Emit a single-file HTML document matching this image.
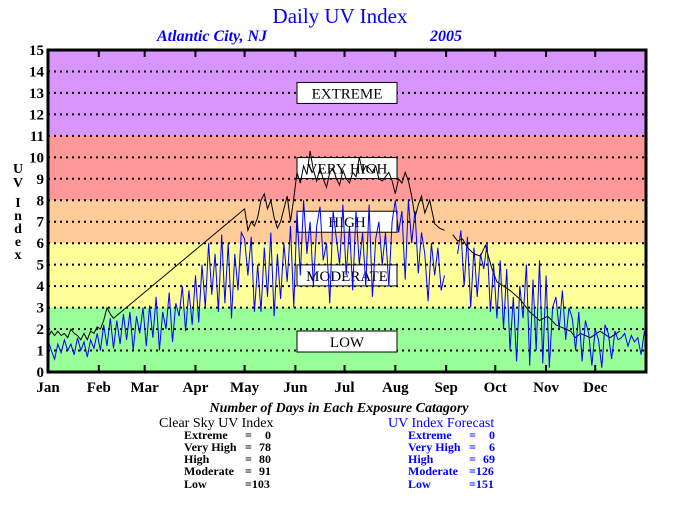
<!DOCTYPE html>
<html><head><meta charset="utf-8"><style>
body{margin:0;background:#fff;width:680px;height:500px;overflow:hidden;font-family:"Liberation Serif",serif}
svg text{font-family:"Liberation Serif",serif}
</style></head><body>
<svg id="chart" width="680" height="500" xmlns="http://www.w3.org/2000/svg">
<text x="340" y="23" text-anchor="middle" font-size="21" fill="#0000ff">Daily UV Index</text>
<text x="157" y="41" font-size="16" font-weight="bold" font-style="italic" fill="#0000ff">Atlantic City, NJ</text>
<text x="430" y="41" font-size="16" font-weight="bold" font-style="italic" fill="#0000ff">2005</text>
<g id="bands"></g><g id="grid"></g><g id="boxes"></g><g id="series"></g><g id="axes"></g>
<g font-size="14" font-weight="bold" text-anchor="middle">
<text x="18" y="173">U</text><text x="18" y="187">V</text><text x="18" y="207">I</text><text x="18" y="220">n</text><text x="18" y="233">d</text><text x="18" y="246">e</text><text x="18" y="259">x</text>
</g>
<text x="339" y="412" text-anchor="middle" font-size="14" font-weight="bold" font-style="italic">Number of Days in Each Exposure Catagory</text>
<g font-weight="bold">
<text x="159" y="427" font-size="14" font-weight="normal">Clear Sky UV Index</text>
<g font-size="12"><text x="184" y="439">Extreme</text><text x="245" y="439">=</text><text x="271" y="439" text-anchor="end">0</text>
<text x="184" y="451">Very High</text><text x="245" y="451">=</text><text x="271" y="451" text-anchor="end">78</text>
<text x="184" y="463">High</text><text x="245" y="463">=</text><text x="271" y="463" text-anchor="end">80</text>
<text x="184" y="475">Moderate</text><text x="245" y="475">=</text><text x="271" y="475" text-anchor="end">91</text>
<text x="184" y="488">Low</text><text x="245" y="488">=103</text></g></g>
<g font-weight="bold" fill="#0000ff">
<text x="388" y="427" font-size="14" font-weight="normal">UV Index Forecast</text>
<g font-size="12"><text x="408" y="439">Extreme</text><text x="469" y="439">=</text><text x="495" y="439" text-anchor="end">0</text>
<text x="408" y="451">Very High</text><text x="469" y="451">=</text><text x="495" y="451" text-anchor="end">6</text>
<text x="408" y="463">High</text><text x="469" y="463">=</text><text x="495" y="463" text-anchor="end">69</text>
<text x="408" y="475">Moderate</text><text x="469" y="475">=126</text>
<text x="408" y="488">Low</text><text x="469" y="488">=151</text></g></g>
</svg>
<script>
const months=["Jan","Feb","Mar","Apr","May","Jun","Jul","Aug","Sep","Oct","Nov","Dec"];
const monthStart=[0,31,59,90,120,151,181,212,243,273,304,334];
const yTicks=[0,1,2,3,4,5,6,7,8,9,10,11,12,13,14,15];
const bandFrom=[0,3,6,8,11];
const bandTo=[3,6,8,11,15];
const bandColors=["#99ff99","#ffff99","#ffcc99","#ff9999","#d896fc"];
const boxLabels=["LOW","MODERATE","HIGH","VERY HIGH","EXTREME"];
const boxLevels=[1.42,4.5,7,9.5,13];
const clearDays=[0,2,4,6,8,10,12,14,16,18,20,22,24,26,28,30,32,34,36,38,40,120,122,124,126,128,130,132,134,136,138,140,142,144,146,148,150,152,154,156,158,160,162,164,166,168,170,172,174,176,178,180,182,184,186,188,190,192,194,196,198,200,202,204,206,208,210,212,214,216,218,220,222,224,226,228,230,233,236,239,242,244,247,250,253,256,260,264,267,271,274,278,282,285,288,294,300,305,310,316,319,322,325,331,337,343,349,355,360,364];
const clearVals=[1.6,1.9,1.7,1.9,1.7,1.8,1.6,2.0,1.8,1.7,1.5,1.8,1.5,1.9,1.8,2.1,2.0,2.4,3.0,2.7,2.5,7.6,6.6,7.0,6.8,7.2,8.0,8.3,7.6,8.0,7.2,6.7,7.0,7.6,8.2,7.0,8.1,9.3,8.8,9.6,9.2,10.3,9.4,8.9,9.5,9.0,8.6,9.3,9.5,9.0,8.7,9.4,9.0,8.8,9.3,9.1,10.0,9.3,9.6,9.5,9.3,9.6,9.0,8.9,9.1,9.3,8.9,8.3,9.0,8.8,9.3,8.9,8.2,7.2,7.8,8.2,7.4,8.0,6.9,6.7,6.6,null,6.4,6.1,6.2,5.8,5.5,5.4,5.9,4.8,4.2,4.0,3.8,3.6,3.4,2.8,2.4,2.6,2.2,2.0,1.9,1.6,1.8,1.6,1.9,1.6,1.9];
const forecastVals=[1.5,1.0,0.6,1.3,0.9,1.5,1.0,1.3,0.8,1.6,1.0,1.4,0.7,1.5,1.1,1.8,
1.0,2.2,1.2,2.5,1.1,2.4,1.3,2.7,1.5,2.8,1.0,2.6,1.8,3.0,
1.2,3.1,1.6,3.5,1.0,2.8,2.0,3.7,1.4,3.2,2.6,4.0,1.9,3.8,2.2,
4.5,2.3,5.0,3.0,6.0,3.6,5.5,2.8,6.4,3.2,6.0,2.5,5.5,3.8,6.5,
6.2,4.5,6.3,2.8,5.0,2.8,5.8,3.5,6.5,2.6,5.5,3.4,6.0,4.2,6.8,3.0,
7.5,4.5,8.0,5.5,7.0,4.0,6.8,7.7,5.2,6.0,3.2,7.5,6.2,5.0,7.8,
4.5,6.8,3.8,7.5,5.0,6.5,4.0,7.8,3.5,6.2,7.0,5.0,6.5,4.0,7.0,
8.0,6.5,7.5,4.3,8.0,6.0,7.5,4.6,6.5,5.5,3.3,6.0,4.5,5.8,3.8,4.5,
null,null,null,5.5,6.6,4.0,6.3,3.0,5.8,3.5,5.5,4.8,6.0,2.8,5.0,
2.5,5.2,2.0,4.8,1.0,3.5,0.5,4.0,2.5,5.0,0.3,4.3,1.0,5.2,0.4,
4.5,0.2,3.0,3.5,2.0,3.8,1.5,3.0,2.5,1.0,2.8,0.5,2.4,1.8,0.3,
2.0,1.5,0.2,2.2,1.8,0.6,1.9,1.5,1.6,1.8,1.2,1.7,1.4,1.6,0.8,1.9];
const forecastDayStep=2;

const L=48,R=646,T=50,B=372;
const xS=d=>L+d*(R-L)/365;
const yS=v=>B-v*(B-T)/15;
const NS="http://www.w3.org/2000/svg";
function mk(tag,parent,attrs){const e=document.createElementNS(NS,tag);for(const k in attrs)e.setAttribute(k,attrs[k]);parent.appendChild(e);return e;}
const gB=document.getElementById('bands'),gG=document.getElementById('grid'),gX=document.getElementById('boxes'),gS=document.getElementById('series'),gA=document.getElementById('axes');
bandFrom.forEach((f,i)=>{const r=mk('rect',gB,{x:L,y:yS(bandTo[i]),width:R-L,height:yS(f)-yS(bandTo[i]),fill:bandColors[i]});

});
yTicks.forEach(v=>{if(v>0&&v<15){const l=mk('line',gG,{x1:L,x2:R,y1:yS(v),y2:yS(v),stroke:'#000','stroke-width':2,'stroke-dasharray':'2,4'});

}
const t=mk('text',gA,{x:44,y:yS(v)+5,'text-anchor':'end','font-size':15,'font-weight':'bold'});t.textContent=v;

});
boxLabels.forEach((s,i)=>{const g=mk('g',gX,{});


const yc=yS(boxLevels[i]);mk('rect',g,{x:297,y:yc-10.5,width:100,height:21,fill:'#fff',stroke:'#000','stroke-width':1});
const t=mk('text',g,{x:347,y:yc+5.5,'text-anchor':'middle','font-size':15});t.textContent=s;});
function pathFrom(days,vals){let d='',pen=false;vals.forEach((v,i)=>{if(v==null){pen=false;return;}d+=(pen?'L':'M')+xS(days[i]).toFixed(1)+','+yS(v).toFixed(1);pen=true;});return d;}
const fDays=forecastVals.map((v,i)=>i*forecastDayStep);
const pc=mk('path',gS,{d:pathFrom(clearDays,clearVals),fill:'none',stroke:'#000','stroke-width':1});


const pf=mk('path',gS,{d:pathFrom(fDays,forecastVals),fill:'none',stroke:'#0000ff','stroke-width':1});


const fr=mk('rect',gA,{x:L,y:T,width:R-L,height:B-T,fill:'none',stroke:'#000','stroke-width':3});


months.forEach((m,i)=>{const x=xS(monthStart[i]);
if(i>0){mk('line',gA,{x1:x,x2:x,y1:B,y2:B-7,stroke:'#000','stroke-width':2});mk('line',gA,{x1:x,x2:x,y1:T,y2:T+7,stroke:'#000','stroke-width':2});}
const t=mk('text',gA,{x:x,y:392,'text-anchor':'middle','font-size':15,'font-weight':'bold'});
t.textContent=m;

});
</script>
</body></html>
